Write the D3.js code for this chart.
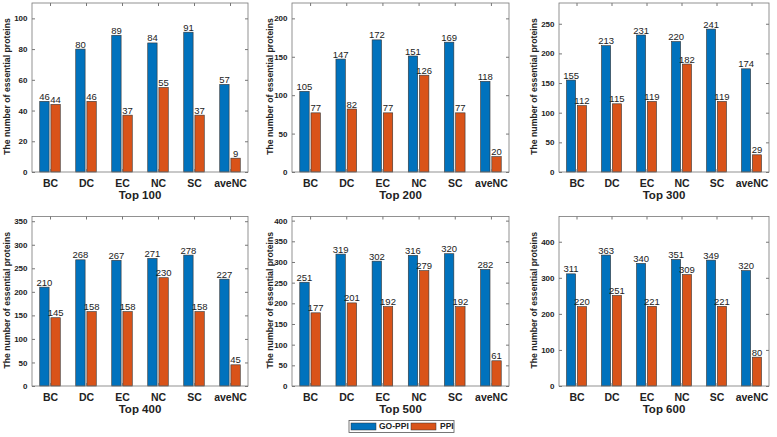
<!DOCTYPE html>
<html><head><meta charset="utf-8">
<script src="https://cdn.jsdelivr.net/npm/d3@7"></script>
<style>body{margin:0;background:#fff}svg{display:block}text{font-family:"Liberation Sans",Arial,sans-serif}</style>
</head><body>
<script>
const categories = ["BC","DC","EC","NC","SC","aveNC"];
const titles = ["Top 100","Top 200","Top 300","Top 400","Top 500","Top 600"];
const goppi = [
  [46,80,89,84,91,57],
  [105,147,172,151,169,118],
  [155,213,231,220,241,174],
  [210,268,267,271,278,227],
  [251,319,302,316,320,282],
  [311,363,340,351,349,320]
];
const ppi = [
  [44,46,37,55,37,9],
  [77,82,77,126,77,20],
  [112,115,119,182,119,29],
  [145,158,158,230,158,45],
  [177,201,192,279,192,61],
  [220,251,221,309,221,80]
];
const yMax = [110,220,285,360,410,470];
const yStep = [20,50,50,50,50,100];
const seriesNames = ["GO-PPI","PPI"];
const colors = ["#0072BD","#D95319"];

const W = 777, H = 437;
const svg = d3.select("body").append("svg").attr("width",W).attr("height",H);
const colL = [32,292,559], colR = [248,509,769];
const rowT = [3,216.5], rowB = [172,386];
const axisColor = "#777";
const FF = "Liberation Sans, Arial, sans-serif";

for (let p=0;p<6;p++){
  const c = p%3, r = Math.floor(p/3);
  const x0 = colL[c], x1 = colR[c], y0 = rowT[r], y1 = rowB[r];
  const g = svg.append("g");
  const x = d3.scaleLinear().domain([0.5,6.5]).range([x0,x1]);
  const y = d3.scaleLinear().domain([0,yMax[p]]).range([y1,y0]);
  const ticks = d3.range(0, yMax[p]+0.001, yStep[p]);
  const bw = 0.26, off = 0.155;
  const series = [goppi[p], ppi[p]];
  series.forEach((vals,si)=>{
    const cx = i => x(i+1 + (si===0?-off:off));
    const wpx = x(bw)-x(0);
    g.selectAll(null).data(vals).enter().append("rect")
      .attr("x",(d,i)=>cx(i)-wpx/2)
      .attr("width",wpx)
      .attr("y",d=>y(d))
      .attr("height",d=>y(0)-y(d))
      .attr("fill",colors[si]).attr("stroke","#333").attr("stroke-width",0.6);
    g.selectAll(null).data(vals).enter().append("text")
      .attr("x",(d,i)=>cx(i)).attr("y",d=>y(d)-1.5)
      .attr("text-anchor","middle").attr("font-size",9.5).attr("fill","#222")
      .text(d=>d);
  });
  // box
  g.append("rect").attr("x",x0).attr("y",y0).attr("width",x1-x0).attr("height",y1-y0)
    .attr("fill","none").attr("stroke",axisColor).attr("stroke-width",0.8);
  // y ticks left & right inward
  const yAxisL = d3.axisLeft(y).tickValues(ticks).tickSize(-3).tickPadding(4.5);
  const ga = g.append("g").attr("transform",`translate(${x0},0)`).call(yAxisL);
  ga.select(".domain").remove();
  ga.selectAll("line").attr("stroke",axisColor);
  ga.selectAll("text").attr("font-size",8).attr("font-weight","bold").attr("fill","#222")
    .attr("font-family",FF);
  const yAxisR = d3.axisRight(y).tickValues(ticks).tickSize(-3).tickFormat("");
  const gr = g.append("g").attr("transform",`translate(${x1},0)`).call(yAxisR);
  gr.select(".domain").remove(); gr.selectAll("line").attr("stroke",axisColor);
  // x ticks bottom & top
  const xAxisB = d3.axisBottom(x).tickValues([1,2,3,4,5,6]).tickSize(-3).tickPadding(8).tickFormat(d=>categories[d-1]);
  const gb = g.append("g").attr("transform",`translate(0,${y1})`).call(xAxisB);
  gb.select(".domain").remove(); gb.selectAll("line").attr("stroke",axisColor);
  gb.selectAll("text").attr("font-size",10.5).attr("font-weight","bold").attr("fill","#222")
    .attr("font-family",FF);
  const xAxisT = d3.axisTop(x).tickValues([1,2,3,4,5,6]).tickSize(-3).tickFormat("");
  const gt = g.append("g").attr("transform",`translate(0,${y0})`).call(xAxisT);
  gt.select(".domain").remove(); gt.selectAll("line").attr("stroke",axisColor);
  // title
  g.append("text").attr("x",(x0+x1)/2).attr("y",y1+26.5).attr("text-anchor","middle")
    .attr("font-size",11.5).attr("font-weight","bold").attr("fill","#222").text(titles[p]);
  // y label
  const ylx = [7,269.5,533.5][c];
  g.append("text").attr("transform",`translate(${ylx},${(y0+y1)/2 - 1}) rotate(-90)`)
    .attr("text-anchor","middle").attr("dy","0.35em").attr("font-size",8.7).attr("font-weight","bold")
    .attr("fill","#222").text("The number of essential proteins");
}

// legend
const lg = svg.append("g");
lg.append("rect").attr("x",349).attr("y",420.5).attr("width",105).attr("height",12)
  .attr("fill","#fff").attr("stroke","#555").attr("stroke-width",0.8);
const legItems = [{x:351, tx:379},{x:411, tx:440}];
seriesNames.forEach((n,i)=>{
  lg.append("rect").attr("x",legItems[i].x).attr("y",423).attr("width",25).attr("height",7)
    .attr("fill",colors[i]).attr("stroke","#333").attr("stroke-width",0.5);
  lg.append("text").attr("x",legItems[i].tx).attr("y",426.5).attr("dy","0.35em")
    .attr("font-size",8.5).attr("font-weight","bold").attr("fill","#222").text(n);
});
</script>
</body></html>
